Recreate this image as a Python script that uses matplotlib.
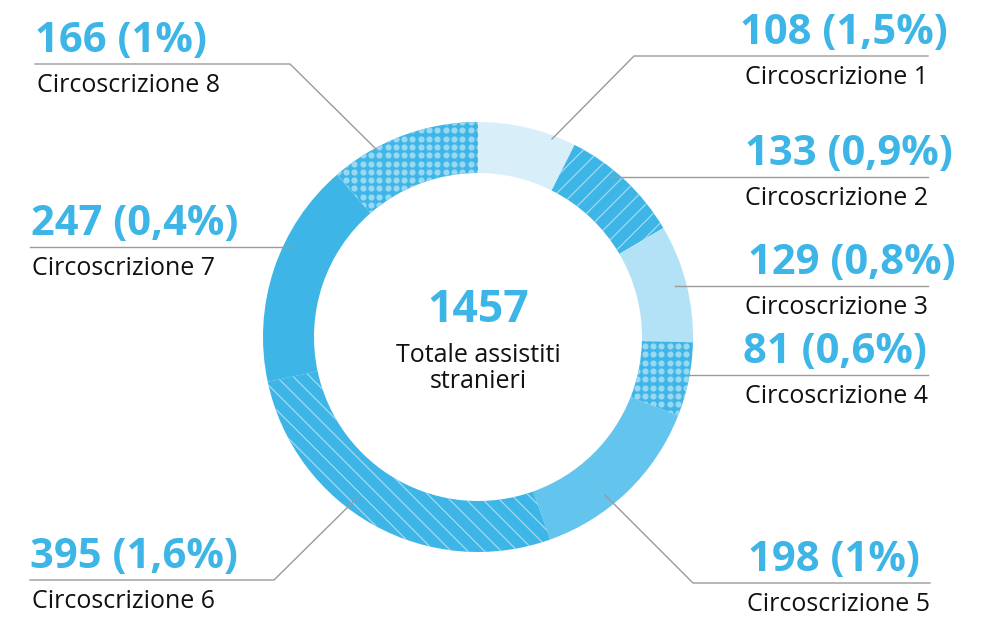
import numpy as np
import matplotlib
matplotlib.use("Agg")
import matplotlib.pyplot as plt

plt.rcParams['font.family'] = ['Open Sans', 'DejaVu Sans']
plt.rcParams['hatch.linewidth'] = 0.9

# Assistiti stranieri per circoscrizione
circoscrizioni = ['Circoscrizione 1', 'Circoscrizione 2', 'Circoscrizione 3', 'Circoscrizione 4',
                  'Circoscrizione 5', 'Circoscrizione 6', 'Circoscrizione 7', 'Circoscrizione 8']
assistiti = [108, 133, 129, 81, 198, 395, 247, 166]
percentuali = ['1,5%', '0,9%', '0,8%', '0,6%', '1%', '1,6%', '0,4%', '1%']
totale = sum(assistiti)

BLU = '#3db5e6'
colori = ['#d8eff9', BLU, '#b3e1f5', BLU, '#63c4ed', BLU, BLU, BLU]
# tratteggio: None, linee, puntini
motivi = [None, '//', None, 'dots', None, '\\\\', None, 'dots']

cx, cy = 478, 337
r_est, spessore = 215, 51

fig = plt.figure(figsize=(9.92, 6.21), dpi=100)
ax = fig.add_axes([0, 0, 1, 1])

wedges, _ = ax.pie(assistiti, colors=colori, startangle=-90, counterclock=True,
                   center=(cx, cy), radius=r_est,
                   wedgeprops=dict(width=spessore, linewidth=0))

for w, m in zip(wedges, motivi):
    if m in ('//', '\\\\'):
        w.set_hatch(m)
        w.set_edgecolor('#9fdaf3')
        w.set_linewidth(0)
    elif m == 'dots':
        gx, gy = np.meshgrid(np.arange(cx - r_est, cx + r_est, 8.3),
                             np.arange(cy - r_est, cy + r_est, 8.3))
        sc = ax.scatter(gx.ravel(), gy.ravel(), s=20, color='#98d8f3', linewidths=0, zorder=3)
        sc.set_clip_path(w)

ax.set_xlim(0, 992)
ax.set_ylim(621, 0)
ax.set_aspect('equal')
ax.axis('off')

# testo centrale
ax.text(cx, 322, str(totale), ha='center', va='baseline', fontsize=32,
        fontweight='bold', color=BLU)
ax.text(cx, 362, 'Totale assistiti', ha='center', va='baseline', fontsize=18, color='#111111')
ax.text(cx, 388, 'stranieri', ha='center', va='baseline', fontsize=18, color='#111111')

# linee guida (percorso) e posizione delle etichette
guide = [
    [(552, 139), (634, 56), (928, 56)],
    [(610, 177), (928, 177)],
    [(675, 286), (928, 286)],
    [(687, 375), (928, 375)],
    [(605, 495), (693, 583), (930, 583)],
    [(357, 498), (274, 580), (30, 580)],
    [(292, 247), (30, 247)],
    [(377, 150), (290, 64), (35, 64)],
]
num_x = [740, 745, 748, 743, 748, 30, 31, 35]
lato = ['r', 'r', 'r', 'r', 'r', 'l', 'l', 'l']

for i, (nome, v, p) in enumerate(zip(circoscrizioni, assistiti, percentuali)):
    pts = np.array(guide[i])
    ax.plot(pts[:, 0], pts[:, 1], color='#9a9a9a', lw=1.0, zorder=4)
    y_linea = pts[-1, 1]
    ax.text(num_x[i], y_linea - 12, f'{v} ({p})', ha='left', va='baseline',
            fontsize=30, fontweight='bold', color=BLU)
    if lato[i] == 'r':
        ax.text(pts[-1, 0], y_linea + 28, nome, ha='right', va='baseline',
                fontsize=18, color='#111111')
    else:
        ax.text(pts[-1, 0] + 2, y_linea + 28, nome, ha='left', va='baseline',
                fontsize=18, color='#111111')

fig.savefig('out.png', dpi=100, facecolor='white')
